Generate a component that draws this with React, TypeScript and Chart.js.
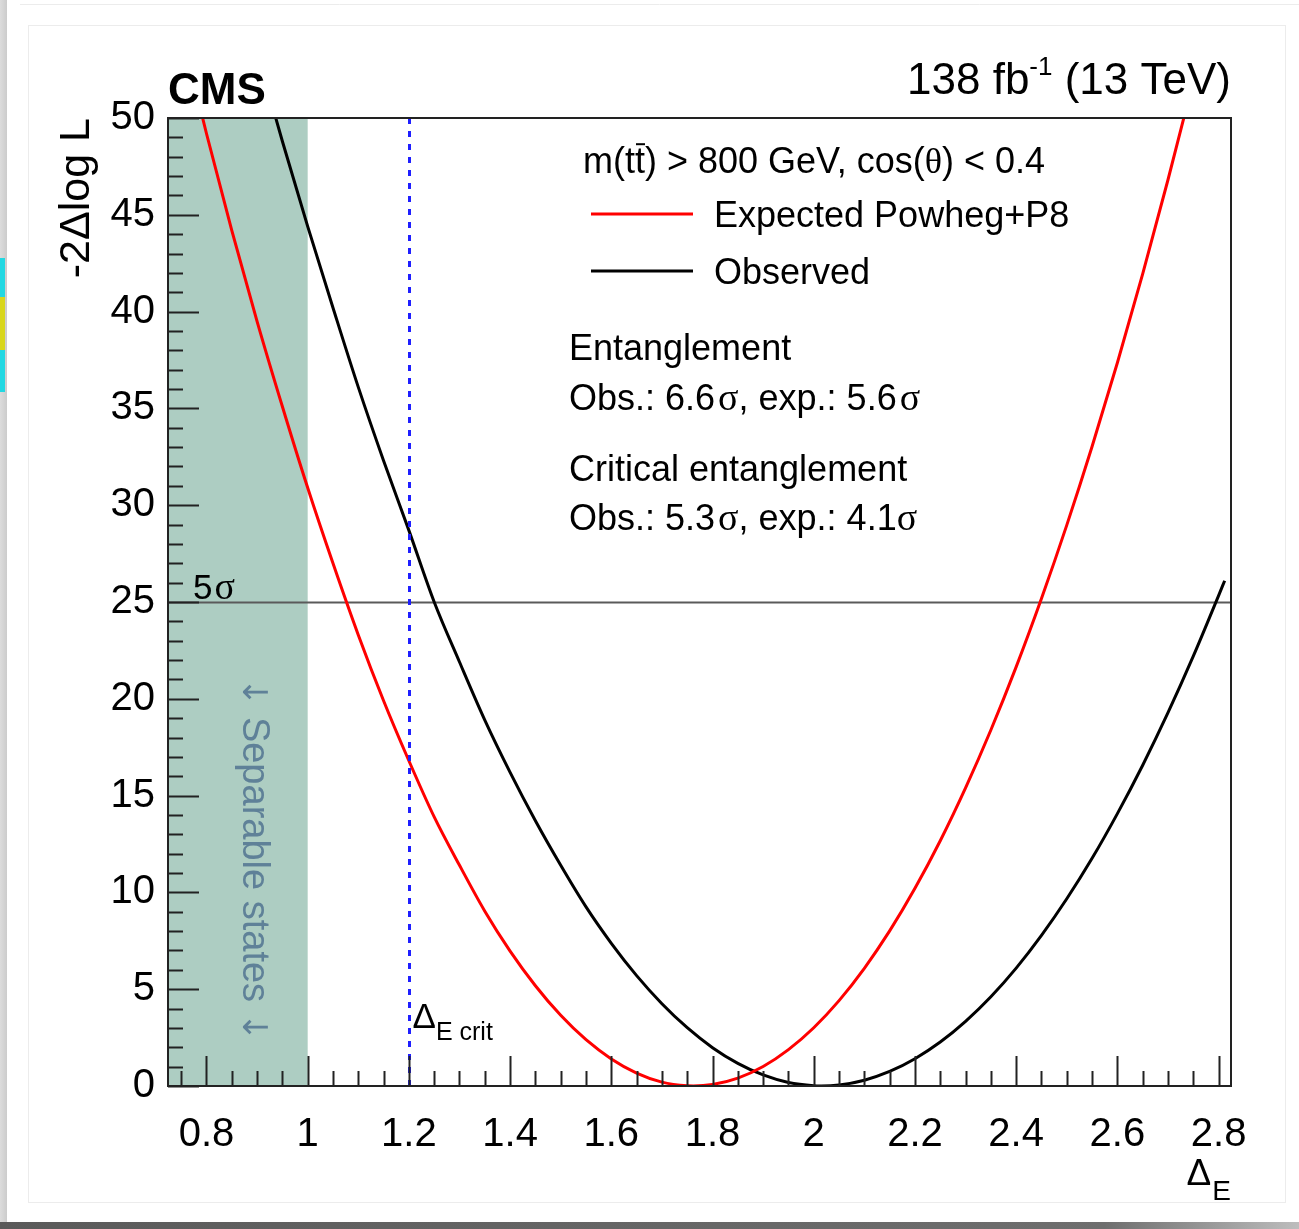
import React, { useEffect, useRef } from "react";
import { Chart, registerables } from "chart.js";

Chart.register(...registerables);

const WIDTH = 1299;
const HEIGHT = 1229;

// Likelihood scan in Delta_E: expected (Powheg+P8) and observed
const EXP_X = [0.75, 0.8, 0.85, 0.9, 0.95, 1.0, 1.05, 1.1, 1.15, 1.2, 1.25, 1.3, 1.35, 1.4, 1.45, 1.5, 1.55, 1.6, 1.65, 1.7, 1.75, 1.762, 1.8, 1.85, 1.9, 1.95, 2.0, 2.05, 2.1, 2.15, 2.2, 2.25, 2.3, 2.35, 2.4, 2.45, 2.5, 2.55, 2.6, 2.65, 2.7, 2.75];
const EXP_Y = [54.5, 49.2, 44.2, 39.5, 35.1, 30.9, 27.0, 23.3, 19.9, 16.8, 13.9, 11.4, 9.03, 6.97, 5.18, 3.65, 2.39, 1.4, 0.67, 0.2, 0.008, 0, 0.077, 0.41, 1.01, 1.88, 3.01, 4.41, 6.08, 8.01, 10.21, 12.67, 15.4, 18.39, 21.65, 25.18, 28.97, 33.03, 37.36, 41.95, 46.81, 51.93];

const OBS_X = [0.9, 0.95, 1.0, 1.05, 1.1, 1.15, 1.2, 1.25, 1.3, 1.35, 1.4, 1.45, 1.5, 1.55, 1.6, 1.65, 1.7, 1.75, 1.8, 1.85, 1.9, 1.95, 2.0, 2.015, 2.05, 2.1, 2.15, 2.2, 2.25, 2.3, 2.35, 2.4, 2.45, 2.5, 2.55, 2.6, 2.65, 2.7, 2.75, 2.8, 2.812];
const OBS_Y = [53.4, 48.8, 44.4, 40.2, 36.1, 32.3, 28.7, 25.0, 21.9, 18.9, 16.2, 13.7, 11.4, 9.25, 7.37, 5.7, 4.25, 3.01, 1.98, 1.17, 0.57, 0.18, 0.01, 0, 0.05, 0.3, 0.75, 1.41, 2.27, 3.34, 4.61, 6.09, 7.78, 9.67, 11.76, 14.07, 16.57, 19.28, 22.2, 25.33, 26.1];

const X_TICKS = [0.8, 1.0, 1.2, 1.4, 1.6, 1.8, 2.0, 2.2, 2.4, 2.6, 2.8];
const Y_TICKS = [0, 5, 10, 15, 20, 25, 30, 35, 40, 45, 50];
const X_MIN = 0.724;
const X_MAX = 2.8245;
const Y_MIN = 0;
const Y_MAX = 50;

const SEPARABLE_LIMIT = 1.0; // Delta_E below this: separable states
const CRITICAL_DELTA = 1.2; // Delta_E crit
const FIVE_SIGMA = 25; // -2 Delta log L for 5 sigma

const SERIES_LABELS = ["Expected Powheg+P8", "Observed"];

const SANS = '"Liberation Sans", Arial, Helvetica, sans-serif';
const SERIF = '"Liberation Serif", "Times New Roman", serif';
const ARROWS = '"DejaVu Sans", sans-serif';
const BAND_COLOR = "#adcdc2";
const BAND_TEXT = "#5f8198";
const FRAME = "#222";
const LEG = 36; // legend text size

type Seg = { t: string; size: number; serif?: boolean; family?: string; bold?: boolean; dy?: number; gap?: number; bar?: boolean };

const segFont = (s: Seg) => `${s.bold ? "bold " : ""}${s.size}px ${s.family ? s.family : s.serif ? SERIF : SANS}`;

function richWidth(ctx: CanvasRenderingContext2D, segs: Seg[]) {
  let w = 0;
  for (const s of segs) {
    ctx.font = segFont(s);
    w += (s.gap || 0) + ctx.measureText(s.t).width;
  }
  return w;
}

function drawRich(
  ctx: CanvasRenderingContext2D,
  x: number,
  y: number,
  segs: Seg[],
  align: "left" | "right" | "center" = "left",
  color = "#000"
) {
  ctx.save();
  ctx.textBaseline = "alphabetic";
  ctx.textAlign = "left";
  ctx.fillStyle = color;
  ctx.strokeStyle = color;
  const total = richWidth(ctx, segs);
  let cx = align === "right" ? x - total : align === "center" ? x - total / 2 : x;
  for (const s of segs) {
    ctx.font = segFont(s);
    cx += s.gap || 0;
    const w = ctx.measureText(s.t).width;
    ctx.fillText(s.t, cx, y + (s.dy || 0));
    if (s.bar) {
      const by = y + (s.dy || 0) - s.size * 0.8;
      ctx.lineWidth = 2;
      ctx.beginPath();
      ctx.moveTo(cx + 1, by);
      ctx.lineTo(cx + w, by);
      ctx.stroke();
    }
    cx += w;
  }
  ctx.restore();
}

function minorTicks(majors: number[], div: number, min: number, max: number) {
  const step = (majors[1] - majors[0]) / div;
  const k = Math.floor((majors[0] - min) / step + 1e-9);
  const start = majors[0] - k * step;
  const out: number[] = [];
  for (let n = 0; ; n++) {
    const v = start + n * step;
    if (v > max + 1e-9) break;
    if (!majors.some((m) => Math.abs(m - v) < 1e-6)) out.push(v);
  }
  return out;
}

const pagePlugin = {
  id: "page",
  beforeDraw(chart: Chart) {
    const ctx = chart.ctx;
    ctx.save();
    ctx.fillStyle = "#fff";
    ctx.fillRect(0, 0, WIDTH, HEIGHT);
    // window edge on the left
    const g = ctx.createLinearGradient(0, 0, 8, 0);
    g.addColorStop(0, "#dcdcdc");
    g.addColorStop(1, "#c9c9c9");
    ctx.fillStyle = g;
    ctx.fillRect(0, 0, 7, 1222);
    ctx.fillStyle = "#22d8e2";
    ctx.fillRect(0, 258, 5, 39);
    ctx.fillRect(0, 350, 5, 42);
    ctx.fillStyle = "#d8d61c";
    ctx.fillRect(0, 297, 5, 53);
    // light page outlines
    ctx.strokeStyle = "#ececec";
    ctx.lineWidth = 1;
    ctx.beginPath();
    ctx.moveTo(20, 4.5);
    ctx.lineTo(WIDTH, 4.5);
    ctx.stroke();
    ctx.strokeRect(28.5, 25.5, 1257, 1177);
    // shadow bar along the bottom
    const b = ctx.createLinearGradient(0, 0, WIDTH, 0);
    b.addColorStop(0, "#5a5a5a");
    b.addColorStop(0.85, "#6e6e6e");
    b.addColorStop(1, "#bdbdbd");
    ctx.fillStyle = b;
    ctx.fillRect(0, 1222, WIDTH, 7);
    ctx.restore();
  },
};

const annotationPlugin = {
  id: "annotations",
  beforeDatasetsDraw(chart: Chart) {
    const { ctx, chartArea: a } = chart;
    const x = chart.scales.x;
    const y = chart.scales.y;
    ctx.save();
    // separable region
    const xb = x.getPixelForValue(SEPARABLE_LIMIT);
    ctx.fillStyle = BAND_COLOR;
    ctx.fillRect(a.left, a.top, xb - a.left, a.bottom - a.top);

    ctx.save();
    ctx.translate((a.left + xb) / 2 + 5, y.getPixelForValue(11.7));
    ctx.rotate(Math.PI / 2);
    drawRich(
      ctx,
      0,
      0,
      [
        { t: "\u2193", size: 34, family: ARROWS },
        { t: " Separable states ", size: 38 },
        { t: "\u2193", size: 34, family: ARROWS },
      ],
      "center",
      BAND_TEXT
    );
    ctx.restore();

    // 5 sigma threshold
    const y5 = Math.round(y.getPixelForValue(FIVE_SIGMA)) + 0.5;
    ctx.strokeStyle = "#5a5a5a";
    ctx.lineWidth = 2;
    ctx.beginPath();
    ctx.moveTo(a.left, y5);
    ctx.lineTo(a.right, y5);
    ctx.stroke();
    drawRich(ctx, a.left + 25, y5 - 4, [
      { t: "5", size: 35 },
      { t: "\u03c3", size: 38, serif: true, gap: 2 },
    ]);
    ctx.restore();
  },
  afterDatasetsDraw(chart: Chart) {
    const { ctx, chartArea: a } = chart;
    const x = chart.scales.x;
    const y = chart.scales.y;
    ctx.save();

    // critical Delta_E
    const xc = Math.round(x.getPixelForValue(CRITICAL_DELTA)) + 0.5;
    ctx.strokeStyle = "#1f1fff";
    ctx.lineWidth = 3;
    ctx.setLineDash([6, 7]);
    ctx.beginPath();
    ctx.moveTo(xc, a.top);
    ctx.lineTo(xc, a.bottom);
    ctx.stroke();
    ctx.setLineDash([]);
    drawRich(ctx, xc + 3, a.bottom - 58, [
      { t: "\u0394", size: 35 },
      { t: "E crit", size: 25, dy: 12 },
    ]);

    // inward tick marks
    ctx.strokeStyle = FRAME;
    ctx.lineWidth = 2;
    ctx.beginPath();
    for (const v of X_TICKS) {
      const px = Math.round(x.getPixelForValue(v)) + 0.5;
      ctx.moveTo(px, a.bottom);
      ctx.lineTo(px, a.bottom - 30);
    }
    for (const v of minorTicks(X_TICKS, 4, X_MIN, X_MAX)) {
      const px = Math.round(x.getPixelForValue(v)) + 0.5;
      ctx.moveTo(px, a.bottom);
      ctx.lineTo(px, a.bottom - 15);
    }
    for (const v of Y_TICKS) {
      const py = Math.round(y.getPixelForValue(v)) + 0.5;
      ctx.moveTo(a.left, py);
      ctx.lineTo(a.left + 31, py);
    }
    for (const v of minorTicks(Y_TICKS, 5, Y_MIN, Y_MAX)) {
      const py = Math.round(y.getPixelForValue(v)) + 0.5;
      ctx.moveTo(a.left, py);
      ctx.lineTo(a.left + 15, py);
    }
    ctx.stroke();

    // frame
    ctx.strokeRect(a.left, a.top, a.right - a.left, a.bottom - a.top);

    // headers
    drawRich(ctx, a.left, a.top - 14, [{ t: "CMS", size: 44, bold: true }]);
    drawRich(
      ctx,
      a.right,
      a.top - 24,
      [
        { t: "138 fb", size: 44 },
        { t: "-1", size: 26, dy: -19 },
        { t: " (13 TeV)", size: 44 },
      ],
      "right"
    );

    // x axis title
    drawRich(
      ctx,
      a.right,
      a.bottom + 99,
      [
        { t: "\u0394", size: 37 },
        { t: "E", size: 28, dy: 15, gap: 1 },
      ],
      "right"
    );

    // legend
    const lx = a.left + 415;
    drawRich(ctx, lx, a.top + 55, [
      { t: "m(t", size: LEG },
      { t: "t", size: LEG, bar: true },
      { t: ") > 800 GeV, cos(", size: LEG },
      { t: "\u03b8", size: LEG, serif: true },
      { t: ") < 0.4", size: LEG },
    ]);
    const ds = chart.data.datasets;
    const rows = [a.top + 96, a.top + 153];
    rows.forEach((ry, i) => {
      ctx.strokeStyle = String(ds[i].borderColor);
      ctx.lineWidth = 3;
      ctx.beginPath();
      ctx.moveTo(lx + 8, ry);
      ctx.lineTo(lx + 110, ry);
      ctx.stroke();
      drawRich(ctx, lx + 131, ry + 13, [{ t: String(ds[i].label), size: LEG }]);
    });

    const tx = a.left + 401;
    drawRich(ctx, tx, a.top + 242, [{ t: "Entanglement", size: LEG }]);
    drawRich(ctx, tx, a.top + 292, [
      { t: "Obs.: 6.6", size: LEG },
      { t: "\u03c3", size: 38, serif: true, gap: 3 },
      { t: ", exp.: 5.6", size: LEG },
      { t: "\u03c3", size: 38, serif: true, gap: 3 },
    ]);
    drawRich(ctx, tx, a.top + 363, [{ t: "Critical entanglement", size: LEG }]);
    drawRich(ctx, tx, a.top + 412, [
      { t: "Obs.: 5.3", size: LEG },
      { t: "\u03c3", size: 38, serif: true, gap: 3 },
      { t: ", exp.: 4.1", size: LEG },
      { t: "\u03c3", size: 38, serif: true },
    ]);

    ctx.restore();
  },
};

export default function App() {
  const ref = useRef<HTMLCanvasElement>(null);

  useEffect(() => {
    const canvas = ref.current;
    if (!canvas) return;
    const chart = new Chart(canvas, {
      type: "line",
      data: {
        datasets: [
          {
            label: SERIES_LABELS[0],
            data: EXP_X.map((v, i) => ({ x: v, y: EXP_Y[i] })),
            borderColor: "#ff0000",
            borderWidth: 3,
            pointRadius: 0,
            cubicInterpolationMode: "monotone",
            fill: false,
          },
          {
            label: SERIES_LABELS[1],
            data: OBS_X.map((v, i) => ({ x: v, y: OBS_Y[i] })),
            borderColor: "#000000",
            borderWidth: 3,
            pointRadius: 0,
            cubicInterpolationMode: "monotone",
            fill: false,
          },
        ],
      },
      options: {
        animation: false,
        responsive: false,
        devicePixelRatio: 1,
        events: [],
        layout: { padding: { left: 0, right: WIDTH - 1231, top: 118, bottom: 0 } },
        plugins: { legend: { display: false }, tooltip: { enabled: false } },
        scales: {
          x: {
            type: "linear",
            min: X_MIN,
            max: X_MAX,
            grid: { display: false, drawTicks: false, tickLength: 0 },
            border: { display: false },
            afterBuildTicks: (scale: any) => {
              scale.ticks = X_TICKS.map((v) => ({ value: v }));
            },
            afterFit: (scale: any) => {
              scale.height = HEIGHT - 1086;
            },
            ticks: {
              autoSkip: false,
              maxRotation: 0,
              padding: 25,
              color: "#000",
              font: { family: SANS, size: 40 },
              callback: (v: any) => String(Number(Number(v).toFixed(2))),
            },
          },
          y: {
            type: "linear",
            min: Y_MIN,
            max: Y_MAX,
            grid: { display: false, drawTicks: false, tickLength: 0 },
            border: { display: false },
            afterBuildTicks: (scale: any) => {
              scale.ticks = Y_TICKS.map((v) => ({ value: v }));
            },
            afterFit: (scale: any) => {
              scale.width = 168;
            },
            ticks: {
              autoSkip: false,
              padding: 13,
              color: "#000",
              font: { family: SANS, size: 40 },
              callback: (v: any) => String(v),
            },
            title: {
              display: true,
              text: "-2\u0394log L",
              align: "end",
              color: "#000",
              font: { family: SANS, size: 43, lineHeight: 1 },
              padding: { top: 56, bottom: 0 },
            },
          },
        },
      },
      plugins: [pagePlugin, annotationPlugin],
    } as any);
    return () => chart.destroy();
  }, []);

  return (
    <div style={{ position: "fixed", left: 0, top: 0, width: WIDTH, height: HEIGHT, background: "#fff" }}>
      <canvas ref={ref} width={WIDTH} height={HEIGHT} style={{ display: "block", width: WIDTH, height: HEIGHT }} />
    </div>
  );
}
